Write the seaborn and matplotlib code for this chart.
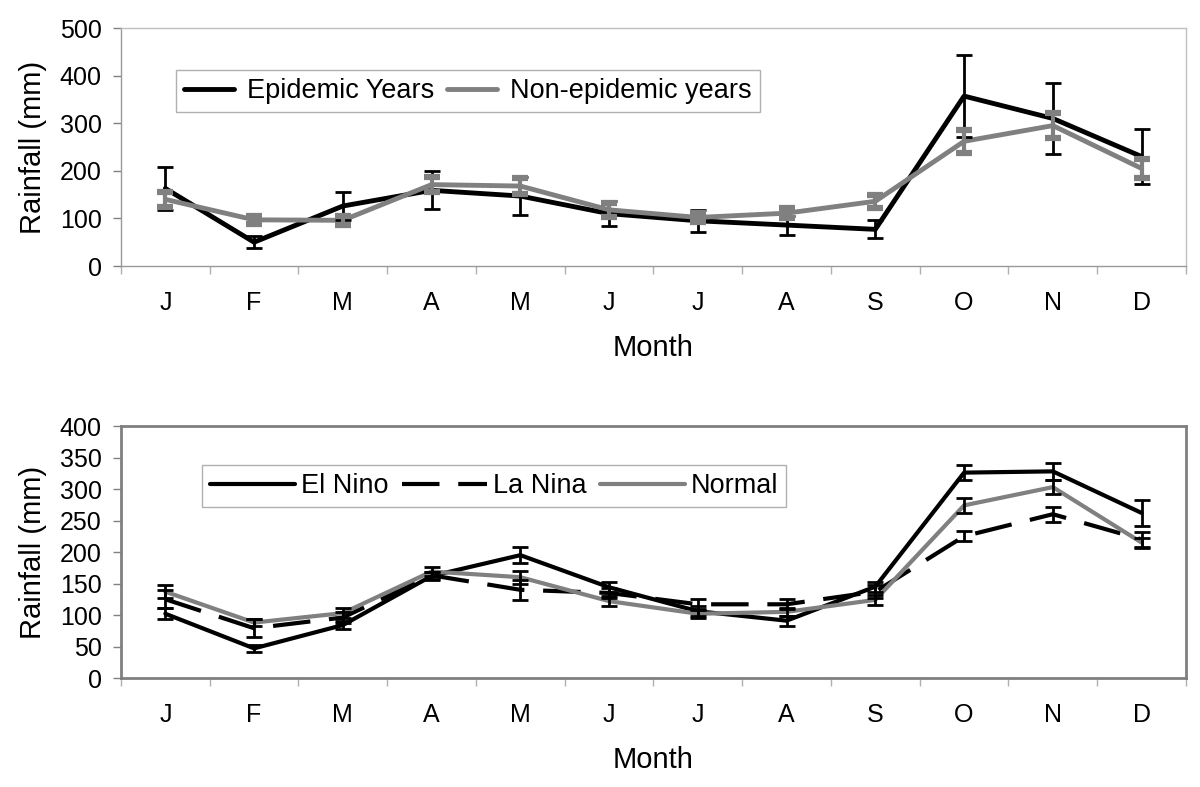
import numpy as np
import pandas as pd
import matplotlib
matplotlib.use("Agg")
import matplotlib.pyplot as plt
import seaborn as sns

sns.set_style("white")
plt.rcParams['font.family'] = ['Liberation Sans', 'DejaVu Sans']
plt.rcParams['text.color'] = 'black'
plt.rcParams['axes.labelcolor'] = 'black'
plt.rcParams['xtick.color'] = 'black'
plt.rcParams['ytick.color'] = 'black'

months = ['J', 'F', 'M', 'A', 'M', 'J', 'J', 'A', 'S', 'O', 'N', 'D']

# top panel: epidemic vs non-epidemic years
epidemic = [163, 50, 126, 159, 147, 110, 95, 86, 77, 357, 310, 230]
epidemic_err = [45, 13, 30, 40, 40, 27, 23, 20, 19, 87, 74, 57]
non_epidemic = [140, 97, 96, 171, 168, 118, 102, 111, 136, 262, 295, 205]
non_epidemic_err = [16, 9, 9, 16, 16, 15, 10, 11, 14, 24, 27, 20]

# bottom panel: ENSO phases
el_nino = [102, 47, 84, 162, 195, 144, 106, 91, 145, 326, 328, 262]
el_nino_err = [9, 5, 6, 7, 13, 8, 8, 8, 8, 12, 13, 20]
la_nina = [125, 79, 96, 163, 140, 135, 117, 117, 137, 225, 260, 220]
la_nina_err = [14, 14, 8, 6, 16, 8, 8, 8, 10, 8, 12, 12]
normal = [137, 88, 103, 169, 160, 122, 102, 105, 124, 274, 303, 215]
normal_err = [10, 6, 8, 7, 10, 8, 6, 6, 8, 12, 11, 8]

x = np.arange(len(months))

top_df = pd.concat([
    pd.DataFrame({'x': x, 'rain': epidemic, 'series': 'Epidemic Years'}),
    pd.DataFrame({'x': x, 'rain': non_epidemic, 'series': 'Non-epidemic years'}),
])
bot_df = pd.concat([
    pd.DataFrame({'x': x, 'rain': el_nino, 'series': 'El Nino'}),
    pd.DataFrame({'x': x, 'rain': la_nina, 'series': 'La Nina'}),
    pd.DataFrame({'x': x, 'rain': normal, 'series': 'Normal'}),
])

GRAY = '#808080'
TICK_FS = 18
LAB_FS = 21
LEG_FS = 19.5

fig = plt.figure(figsize=(12, 7.87), dpi=100)
ax1 = fig.add_axes([0.1008, 0.662, 0.8875, 0.3024])
ax2 = fig.add_axes([0.1008, 0.1385, 0.8875, 0.3202])

# ---- top panel
sns.lineplot(data=top_df, x='x', y='rain', hue='series',
             palette={'Epidemic Years': 'black', 'Non-epidemic years': GRAY},
             linewidth=3.5, sort=False, ax=ax1)
ax1.errorbar(x, epidemic, yerr=epidemic_err, fmt='none', ecolor='black',
             elinewidth=2, capsize=5.5, capthick=2, zorder=3)
ax1.errorbar(x, non_epidemic, yerr=non_epidemic_err, fmt='none', ecolor=GRAY,
             elinewidth=3, capsize=6, capthick=4.5, zorder=4)
ax1.set_ylim(0, 500)
ax1.set_yticks(range(0, 501, 100))

# ---- bottom panel
sns.lineplot(data=bot_df, x='x', y='rain', hue='series', style='series',
             palette={'El Nino': 'black', 'La Nina': 'black', 'Normal': GRAY},
             dashes={'El Nino': '', 'La Nina': (9, 4.5), 'Normal': ''},
             linewidth=3, sort=False, ax=ax2)
for vals, errs in [(el_nino, el_nino_err), (la_nina, la_nina_err), (normal, normal_err)]:
    ax2.errorbar(x, vals, yerr=errs, fmt='none', ecolor='black',
                 elinewidth=2, capsize=5.5, capthick=2, zorder=4)
ax2.set_ylim(0, 400)
ax2.set_yticks(range(0, 401, 50))

for ax in (ax1, ax2):
    ax.set_xlim(-0.5, len(months) - 0.5)
    ax.set_xticks(x)
    ax.set_xticklabels(months)
    ax.set_xticks(np.arange(-0.5, len(months), 1.0), minor=True)
    ax.tick_params(axis='x', which='major', length=0, pad=18, labelsize=TICK_FS,
                   labelcolor='black')
    ax.tick_params(axis='x', which='minor', length=5.5, width=1, color='#b0b0b0',
                   direction='out', bottom=True)
    ax.tick_params(axis='y', length=5.8, width=1, color=GRAY, direction='out',
                   left=True, pad=8, labelsize=TICK_FS, labelcolor='black')
    ax.set_xlabel('Month', fontsize=LAB_FS, labelpad=14, color='black')
    ax.set_ylabel('Rainfall (mm)', fontsize=LAB_FS, labelpad=9, color='black')

for side in ['top', 'right']:
    ax1.spines[side].set_color('#c0c0c0')
    ax1.spines[side].set_linewidth(1)
for side in ['left', 'bottom']:
    ax1.spines[side].set_color('#999999')
    ax1.spines[side].set_linewidth(1)
for side in ax2.spines:
    ax2.spines[side].set_color(GRAY)
    ax2.spines[side].set_linewidth(2)

h, l = ax1.get_legend_handles_labels()
ax1.legend(h, l, loc='upper left', bbox_to_anchor=(0.0513, 0.8235), borderaxespad=0,
           ncol=2, fontsize=LEG_FS, frameon=True, fancybox=False, framealpha=1,
           edgecolor='#b0b0b0', handlelength=1.85, handletextpad=0.5,
           columnspacing=0.45, borderpad=0.3, labelcolor='black')

h, l = ax2.get_legend_handles_labels()
ax2.legend(h, l, loc='upper left', bbox_to_anchor=(0.076, 0.845), borderaxespad=0,
           ncol=3, fontsize=LEG_FS, frameon=True, fancybox=False, framealpha=1,
           edgecolor='#b0b0b0', handlelength=3.15, handletextpad=0.2,
           columnspacing=0.5, borderpad=0.3, labelcolor='black')

fig.savefig('out.png', dpi=100)
